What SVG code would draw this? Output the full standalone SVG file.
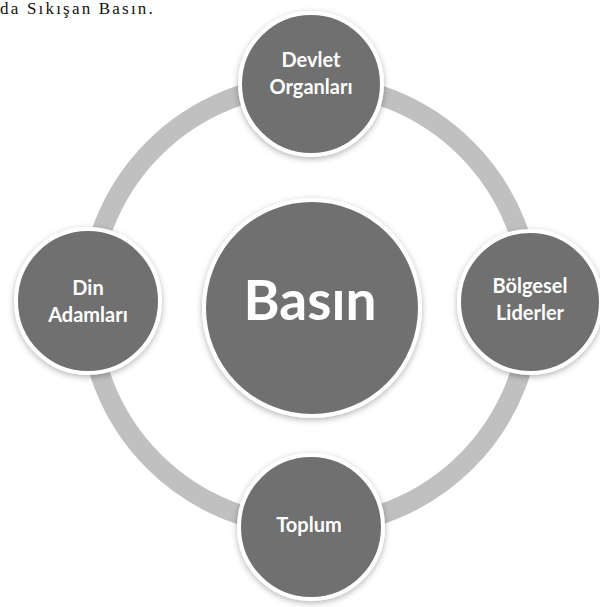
<svg xmlns="http://www.w3.org/2000/svg" width="600" height="607" viewBox="0 0 600 607">
<style>
.node circle{fill:#6f6f6f;stroke:#ffffff;stroke-width:4;filter:url(#sh)}
.lbl{font-family:Lato,"Open Sans",sans-serif;font-weight:bold;font-size:20px;fill:#ffffff;text-anchor:middle}
.big{font-size:55px}
.title{font-family:"Liberation Serif",serif;font-size:17px;fill:#111}
</style>
<defs>
<filter id="sh" x="-20%" y="-20%" width="140%" height="140%">
<feDropShadow dx="0" dy="2" stdDeviation="3" flood-color="#000" flood-opacity="0.3"/>
</filter>
</defs>
<rect width="600" height="607" fill="#ffffff"/>
<text class="title" x="0" y="14" letter-spacing="2.2">da Sıkışan Basın.</text>
<g id="connectors">
<circle cx="310" cy="305" r="221" fill="none" stroke="#c0c0c0" stroke-width="20"/>
</g>
<g id="basin" class="node">
<circle cx="312" cy="308" r="108"/>
<text class="lbl big" x="310" y="320">Basın</text>
</g>
<g id="devlet" class="node">
<circle cx="311" cy="84" r="71"/>
<text class="lbl" x="311" y="67">Devlet</text>
<text class="lbl" x="311" y="94">Organları</text>
</g>
<g id="din" class="node">
<circle cx="88" cy="301" r="72"/>
<text class="lbl" x="88" y="295">Din</text>
<text class="lbl" x="88" y="322">Adamları</text>
</g>
<g id="bolgesel" class="node">
<circle cx="530" cy="302" r="71"/>
<text class="lbl" x="530" y="293">Bölgesel</text>
<text class="lbl" x="530" y="320">Liderler</text>
</g>
<g id="toplum" class="node">
<circle cx="311" cy="527" r="72"/>
<text class="lbl" x="309" y="532">Toplum</text>
</g>
</svg>
